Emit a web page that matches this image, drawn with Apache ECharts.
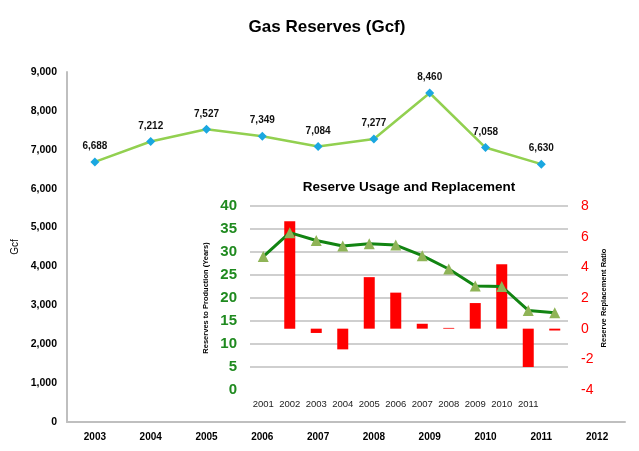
<!DOCTYPE html>
<html>
<head>
<meta charset="utf-8">
<script src="https://cdn.jsdelivr.net/npm/echarts@6/dist/echarts.min.js"></script>
<style>
html,body{margin:0;padding:0;background:#fff;}
#chart{width:639px;height:451px;}
</style>
</head>
<body>
<div id="chart"></div>
<script>
// Main chart data
var mainYears = ['2003','2004','2005','2006','2007','2008','2009','2010','2011','2012'];
var gasReserves = [6688, 7212, 7527, 7349, 7084, 7277, 8460, 7058, 6630, null];
var mainYTicks = {min: 0, max: 9000, interval: 1000};

// Inset chart data
var insetYears = ['2001','2002','2003','2004','2005','2006','2007','2008','2009','2010','2011',''];
var reservesToProduction = [29.0, 34.2, 32.5, 31.3, 31.8, 31.5, 29.2, 26.3, 22.6, 22.5, 17.3, 16.8];
var replacementRatio = [null, 7.0, -0.28, -1.35, 3.36, 2.35, 0.32, 0.05, 1.67, 4.2, -2.5, -0.12];

var FONT = '"Liberation Sans", Arial, sans-serif';

var chart = echarts.init(document.getElementById('chart'), null, {renderer: 'canvas'});
var option = {
  backgroundColor: '#ffffff',
  animation: false,
  textStyle: {fontFamily: FONT},
  title: [
    {text: 'Gas Reserves (Gcf)', left: 322, textAlign: 'center', top: 14,
     textStyle: {fontFamily: FONT, fontSize: 17, fontWeight: 'bold', color: '#000'}},
    {text: 'Reserve Usage and Replacement', left: 404, textAlign: 'center', top: 175,
     textStyle: {fontFamily: FONT, fontSize: 13.5, fontWeight: 'bold', color: '#000'}}
  ],
  grid: [
    {left: 67, right: 14, top: 72, bottom: 29},
    {left: 250, right: 71, top: 206, bottom: 61}
  ],
  xAxis: [
    {type: 'category', gridIndex: 0, data: mainYears, boundaryGap: true,
     axisLine: {show: true, lineStyle: {color: '#bfbfbf', width: 2}},
     axisTick: {show: false},
     axisLabel: {fontFamily: FONT, fontSize: 10, fontWeight: 'bold', color: '#000', margin: 10}},
    {type: 'category', gridIndex: 1, data: insetYears, boundaryGap: true,
     axisLine: {show: false}, axisTick: {show: false},
     axisLabel: {fontFamily: FONT, fontSize: 9.5, color: '#222', margin: 9, interval: 0}}
  ],
  yAxis: [
    {type: 'value', gridIndex: 0, min: mainYTicks.min, max: mainYTicks.max, interval: mainYTicks.interval,
     name: 'Gcf', nameLocation: 'middle', nameGap: 43, nameRotate: 90,
     nameTextStyle: {fontFamily: FONT, fontSize: 10, color: '#000'},
     axisLine: {show: true, lineStyle: {color: '#bfbfbf', width: 2}},
     axisTick: {show: false}, splitLine: {show: false},
     axisLabel: {fontFamily: FONT, fontSize: 10.5, fontWeight: 'bold', color: '#000', margin: 10,
       formatter: function (v) { return v.toLocaleString('en-US'); }}},
    {type: 'value', gridIndex: 1, min: 0, max: 40, interval: 5, position: 'left',
     name: 'Reserves to Production (Years)', nameLocation: 'middle', nameGap: 40, nameRotate: 90,
     nameTextStyle: {fontFamily: FONT, fontSize: 7.5, fontWeight: 'bold', color: '#000'},
     axisLine: {show: false}, axisTick: {show: false},
     splitLine: {show: true, showMinLine: false, lineStyle: {color: '#bfbfbf', width: 1.5}},
     axisLabel: {fontFamily: FONT, fontSize: 15, fontWeight: 'bold', color: '#1f8a1f', margin: 13}},
    {type: 'value', gridIndex: 1, min: -4, max: 8, interval: 2, position: 'right',
     name: 'Reserve Replacement Ratio', nameLocation: 'middle', nameGap: 32, nameRotate: 90,
     nameTextStyle: {fontFamily: FONT, fontSize: 7.5, fontWeight: 'bold', color: '#000'},
     axisLine: {show: false}, axisTick: {show: false}, splitLine: {show: false},
     axisLabel: {fontFamily: FONT, fontSize: 14, color: '#ff0000', margin: 13}}
  ],
  series: [
    {type: 'line', xAxisIndex: 0, yAxisIndex: 0, data: gasReserves,
     symbol: 'diamond', symbolSize: 9, showAllSymbol: true,
     lineStyle: {color: '#92d050', width: 2.5},
     itemStyle: {color: '#1aa7e0'},
     label: {show: true, position: 'top', distance: 6, fontFamily: FONT, fontSize: 10, fontWeight: 'bold', color: '#111',
       formatter: function (p) { return p.value == null ? '' : p.value.toLocaleString('en-US'); }},
     z: 2},
    {type: 'bar', xAxisIndex: 1, yAxisIndex: 2, data: replacementRatio,
     barWidth: 11, itemStyle: {color: '#ff0000'}, z: 3},
    {type: 'line', xAxisIndex: 1, yAxisIndex: 1, data: reservesToProduction,
     symbol: 'triangle', symbolSize: 11,
     lineStyle: {color: '#128412', width: 3},
     itemStyle: {color: '#8fb457'}, z: 4}
  ]
};
chart.setOption(option);
</script>
</body>
</html>
